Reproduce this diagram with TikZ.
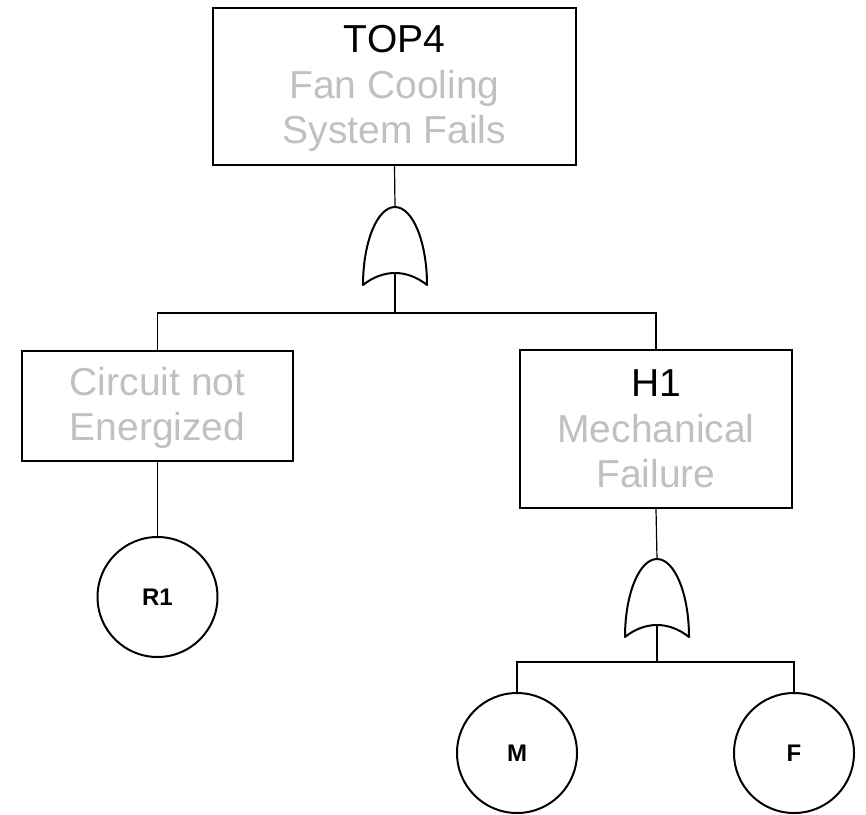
\documentclass[tikz,border=0pt]{standalone}
\usepackage{fontspec}
\setmainfont{Liberation Sans}
\definecolor{faint}{RGB}{192,192,192}
\tikzset{
  orgate/.pic={
    \draw[line width=2pt,fill=white,line join=round]
      (-32,78) .. controls (-32,35) and (-17.7,0) .. (0,0)
      .. controls (17.7,0) and (32,35) .. (32,78)
      .. controls (12,62) and (-12,62) .. (-32,78) -- cycle;
    \coordinate (-apex) at (0,0);
    \coordinate (-base) at (0,66);
  }
}
\begin{document}
\begin{tikzpicture}[x=1pt,y=-1pt,
  event/.style={draw=black,line width=2.2pt,inner sep=0pt},
  basic/.style={circle,draw=black,line width=2pt,minimum size=120pt,inner sep=0pt,
                font=\fontsize{24}{28}\selectfont\bfseries},
  wire/.style={line width=1.2pt},
  stem/.style={line width=2pt},
  big/.style={font=\fontsize{39}{45}\selectfont,inner sep=0pt,anchor=base},
  idtxt/.style={big,text=black},
  desc/.style={big,text=faint}]
\useasboundingbox (0,0) rectangle (866,814);

% event boxes
\node[event,minimum width=363pt,minimum height=157pt] (top) at (394.5,86.5) {};
\node[event,minimum width=271pt,minimum height=110pt] (circ) at (157.5,406) {};
\node[event,minimum width=272pt,minimum height=158pt] (mech) at (656,429) {};

% box texts
\node[idtxt] (topid) at (394.5,52) {TOP4};
\node[desc] (topd1) at (394.5,98) {Fan Cooling};
\node[desc] (topd2) at (394.5,143) {System Fails};
\node[desc] (circd1) at (157.5,395) {Circuit not};
\node[desc] (circd2) at (157.5,440) {Energized};
\node[idtxt] (mechid) at (656,396) {H1};
\node[desc] (mechd1) at (656,442) {Mechanical};
\node[desc] (mechd2) at (656,487) {Failure};

% OR gates
\pic (g1) at (395,207) {orgate};
\pic (g2) at (657,559) {orgate};

% basic events
\node[basic] (r1) at (157.5,597) {R1};
\node[basic] (m) at (517,753) {M};
\node[basic] (f) at (794,753) {F};

% junction bars
\coordinate (bar1) at (395,313);
\coordinate (bar2) at (657,662);

% connectors
\draw[wire] (top.south) -- (g1-apex);
\draw[stem] (g1-base) -- (bar1);
\draw[wire] (circ.north) |- (bar1) -| (mech.north);
\draw[wire] (circ.south) -- (r1.north);
\draw[wire] (mech.south) -- (g2-apex);
\draw[stem] (g2-base) -- (bar2);
\draw[wire] (m.north) |- (bar2) -| (f.north);
\end{tikzpicture}
\end{document}
